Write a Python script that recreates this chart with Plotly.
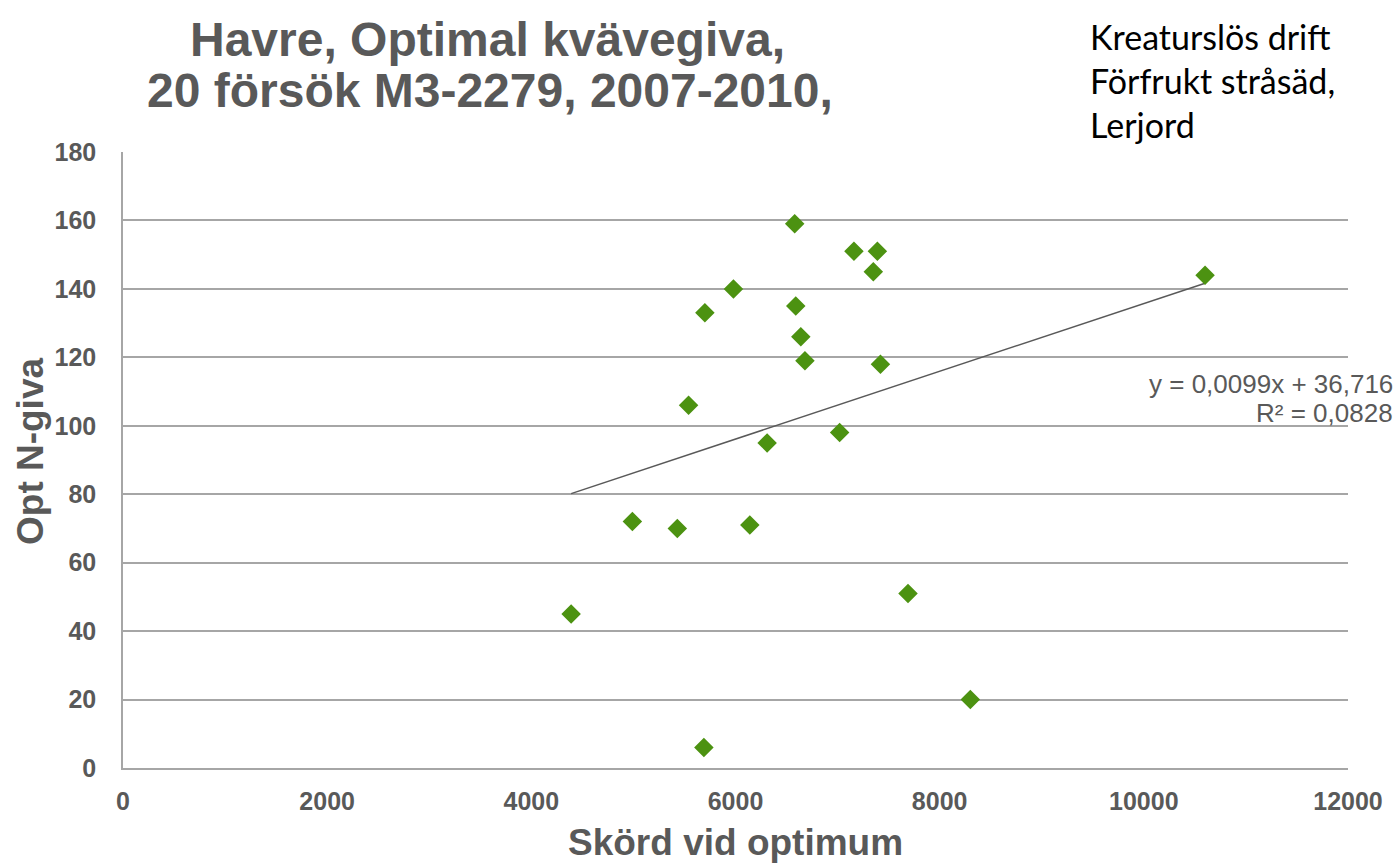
import plotly.graph_objects as go

# Data
skord = [4390, 4990, 5430, 5690, 5700, 5540, 5980, 6140, 6310, 6580,
         6590, 6640, 6680, 7020, 7160, 7350, 7390, 7420, 7690, 8300, 10600]
opt_n = [45, 72, 70, 6, 133, 106, 140, 71, 95, 159,
         135, 126, 119, 98, 151, 145, 151, 118, 51, 20, 144]

trend_slope = 0.0099
trend_intercept = 36.716
r2 = 0.0828

x_ticks = [0, 2000, 4000, 6000, 8000, 10000, 12000]
y_ticks = [0, 20, 40, 60, 80, 100, 120, 140, 160, 180]

title_lines = ["Havre, Optimal kvävegiva,", "20 försök M3-2279, 2007-2010,"]
note_lines = ["Kreaturslös drift", "Förfrukt stråsäd,", "Lerjord"]
x_title = "Skörd vid optimum"
y_title = "Opt N-giva"

GRAY = "#595959"
GREEN = "#4C9211"
GRID = "#A6A6A6"
FONT = "Liberation Sans, Arial, sans-serif"

W, H = 1399, 863
L, R, T, B = 123, 51, 152, 95
PW, PH = W - L - R, H - T - B


def px(xpix):
    return (xpix - L) / PW


def py(ypix):
    return (H - B - ypix) / PH


tx = [min(skord), max(skord)]
ty = [trend_slope * v + trend_intercept for v in tx]

fig = go.Figure()
fig.add_trace(go.Scatter(
    x=tx, y=ty, mode="lines",
    line=dict(color=GRAY, width=1.5), showlegend=False, hoverinfo="skip"))
fig.add_trace(go.Scatter(
    x=skord, y=opt_n, mode="markers",
    marker=dict(symbol="diamond", size=15, color=GREEN, line=dict(width=0)),
    showlegend=False))

fig.update_layout(
    width=W, height=H,
    margin=dict(l=L, r=R, t=T, b=B),
    plot_bgcolor="white", paper_bgcolor="white",
    font=dict(family=FONT, color=GRAY),
    xaxis=dict(
        range=[0, 12000], tickvals=x_ticks,
        ticktext=["<b>%d</b>" % v for v in x_ticks],
        showgrid=False, zeroline=False, showline=True,
        linecolor=GRID, linewidth=1.5, ticks="",
        tickfont=dict(size=25, color=GRAY, family=FONT),
        ticklabelstandoff=10,
    ),
    yaxis=dict(
        range=[0, 180], tickvals=y_ticks,
        ticktext=["<b>%d</b>" % v for v in y_ticks],
        showgrid=True, gridcolor=GRID, gridwidth=1.5, zeroline=False,
        showline=True, linecolor=GRID, linewidth=1.5, ticks="",
        tickfont=dict(size=25, color=GRAY, family=FONT),
        ticklabelstandoff=20,
    ),
)

# Title (two lines, placed separately to control spacing)
for line, xc, yc in zip(title_lines, [487, 490], [40, 90]):
    fig.add_annotation(
        text="<b>%s</b>" % line, xref="paper", yref="paper",
        x=px(xc), y=py(yc), xanchor="center", yanchor="middle", showarrow=False,
        font=dict(size=48, color=GRAY, family=FONT))

# Note at top right
fig.add_annotation(
    text="<br>".join(note_lines),
    xref="paper", yref="paper", x=px(1088), y=py(80),
    xanchor="left", yanchor="middle", showarrow=False,
    font=dict(size=34, color="black", family="Lato, Open Sans, sans-serif"),
    align="left")

# Trendline equation
eq_lines = ["y = %sx + %s" % (str(trend_slope).replace(".", ","),
                              str(trend_intercept).replace(".", ",")),
            "R² = %s" % str(r2).replace(".", ",")]
for line, yc in zip(eq_lines, [384, 413]):
    fig.add_annotation(
        text=line, xref="paper", yref="paper", x=px(1395), y=py(yc),
        xanchor="right", yanchor="middle", showarrow=False,
        font=dict(size=26, color=GRAY, family=FONT))

# Axis titles
fig.add_annotation(
    text="<b>%s</b>" % x_title, xref="paper", yref="paper",
    x=px(735), y=py(842), xanchor="center", yanchor="middle", showarrow=False,
    font=dict(size=37, color=GRAY, family=FONT))
fig.add_annotation(
    text="<b>%s</b>" % y_title, xref="paper", yref="paper",
    x=px(30), y=py(452), xanchor="center", yanchor="middle", showarrow=False,
    textangle=-90, font=dict(size=37, color=GRAY, family=FONT))

fig.write_html("out.html", config={"displayModeBar": False},
               post_script="document.body.style.margin='0';")
